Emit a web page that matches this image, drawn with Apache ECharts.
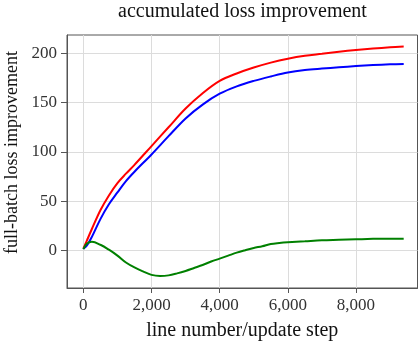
<!DOCTYPE html>
<html><head><meta charset="utf-8">
<script src="https://cdn.jsdelivr.net/npm/echarts@6/dist/echarts.min.js"></script>
<style>html,body{margin:0;padding:0;background:#fff}#c{width:419px;height:345px}</style>
</head><body><div id="c"></div>
<script>
const steps    = [0, 100, 250, 500, 750, 1000, 1250, 1500, 2000, 2500, 3000, 3500, 4000, 4500, 5000, 5500, 6000, 6500, 7000, 7500, 8000, 8500, 9000, 9400];
const redVals  = [2, 10, 22, 41, 56, 68.5, 78, 87, 106, 125, 144, 159.5, 172, 179.5, 185.5, 190.5, 194.5, 197.5, 199.5, 201.5, 203.3, 204.8, 206, 206.8];
const blueVals = [2, 5, 14, 32, 47, 59, 70.5, 80, 97.5, 116, 134, 148, 159, 166.5, 172, 176.5, 180.5, 183, 184.5, 185.8, 187, 188, 188.8, 189.2];
const greenSteps = [0, 100, 250, 500, 750, 1000, 1250, 1500, 1750, 2000, 2250, 2500, 2750, 3000, 3250, 3500, 3750, 4000, 4250, 4500, 4750, 5000, 5250, 5500, 5750, 6000, 6500, 7000, 7500, 8000, 8500, 9000, 9400];
const greenVals  = [1.5, 7, 9, 6, 1, -5, -12, -17, -21, -24.5, -25.6, -25, -23, -20.5, -17.5, -14.5, -11, -8, -5, -2, 0.5, 2.8, 4.5, 6.8, 7.8, 8.5, 9.5, 10.5, 11, 11.5, 12, 12, 12.2];
const xTicks = [0, 2000, 4000, 6000, 8000];
const yTicks = [0, 50, 100, 150, 200];
const titleText = 'accumulated loss improvement';
const xName = 'line number/update step';
const yName = 'full-batch loss improvement';

const pair = (xs, ys) => xs.map((x, i) => [x, ys[i]]);
const FONT = '"Liberation Serif", "DejaVu Serif", serif';
const chart = echarts.init(document.getElementById('c'), null, {renderer: 'canvas'});
const lineOpts = (color) => ({type: 'line', showSymbol: false, smooth: 0.35,
  lineStyle: {color: color, width: 2}, itemStyle: {color: color}});
chart.setOption({
  animation: false,
  backgroundColor: '#fff',
  grid: {left: 67, right: 1.5, top: 35, bottom: 57, show: true, borderColor: '#555', borderWidth: 1, outerBoundsMode: 'none'},
  xAxis: {type: 'value', min: -480, max: 9805,
    name: xName, nameLocation: 'middle', nameGap: 33,
    nameTextStyle: {fontFamily: FONT, fontSize: 20, color: '#111'},
    axisLine: {show: true, onZero: false, lineStyle: {color: '#555'}},
    axisTick: {show: true, customValues: xTicks, length: 5, lineStyle: {color: '#555'}},
    axisLabel: {customValues: xTicks, margin: 9, fontFamily: FONT, fontSize: 17, color: '#333',
      formatter: v => v.toLocaleString('en-US')},
    splitLine: {show: true, lineStyle: {color: '#dcdcdc'}}
  },
  yAxis: {type: 'value', min: -37.8, max: 218.5,
    axisLine: {show: true, onZero: false, lineStyle: {color: '#555'}},
    axisTick: {show: true, customValues: yTicks, length: 6, lineStyle: {color: '#555'}},
    axisLabel: {customValues: yTicks, margin: 10, fontFamily: FONT, fontSize: 17, color: '#333'},
    splitLine: {show: true, lineStyle: {color: '#dcdcdc'}}
  },
  graphic: [
    {type: 'text', x: 242.5, y: 12,
      style: {text: titleText, font: '20px ' + FONT, fill: '#111', textAlign: 'center', textVerticalAlign: 'middle'}},
    {type: 'text', x: 12, y: 152.5, rotation: Math.PI / 2,
      style: {text: yName, font: '18px ' + FONT, fill: '#111', textAlign: 'center', textVerticalAlign: 'middle'}}
  ],
  series: [
    Object.assign(lineOpts('#ff0000'), {data: pair(steps, redVals)}),
    Object.assign(lineOpts('#0000ff'), {data: pair(steps, blueVals)}),
    Object.assign(lineOpts('#008000'), {data: pair(greenSteps, greenVals)})
  ]
});
</script></body></html>
